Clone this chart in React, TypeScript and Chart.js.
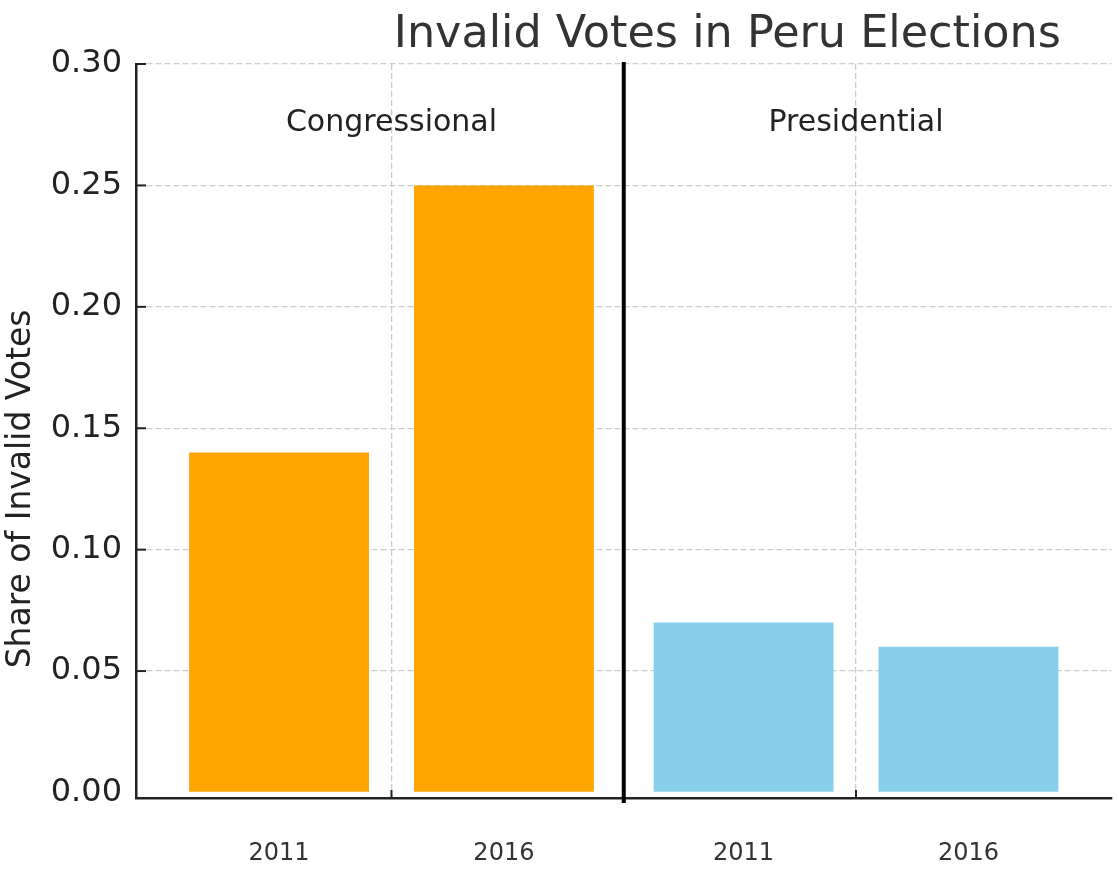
import React, { useEffect, useRef } from 'react';
import { Chart, registerables } from 'chart.js';

Chart.register(...registerables);

// ---- data ----
const groups = ['Congressional', 'Presidential'];
const years = ['2011', '2016'];
const congressional = [0.14, 0.25];
const presidential = [0.07, 0.06];
const yTicks = [0, 0.05, 0.1, 0.15, 0.2, 0.25, 0.3];
const chartTitle = 'Invalid Votes in Peru Elections';
const yTitle = 'Share of Invalid Votes';

// ---- layout constants (axis units) ----
const BAR_OFFSET = 0.242;
const X_MIN = -0.55;
const X_MAX = 1.55;
const Y_MIN = -0.00227;
const Y_MAX = 0.3;
const DIVIDER_X = 0.5;
const GROUP_LABEL_Y = 0.2757;
const Y_TITLE_CENTER = 0.125;

const FAMILY = '"DejaVu Sans", sans-serif';
const GRID_COLOR = '#cccccc';

const barX = (g: number, yi: number) => g + (yi === 0 ? -BAR_OFFSET : BAR_OFFSET);

export default function App() {
  const ref = useRef<HTMLCanvasElement>(null);

  useEffect(() => {
    document.body.style.margin = '0';
    document.body.style.overflow = 'hidden';
    const canvas = ref.current;
    if (!canvas) return;

    const barPositions = groups.flatMap((_, g) => years.map((_, yi) => barX(g, yi)));
    const barLabels = groups.flatMap(() => years);

    const overlay = {
      id: 'overlay',
      afterDraw(chart: any) {
        const { ctx, chartArea, scales } = chart;
        const x = scales.x;
        const y = scales.y;
        ctx.save();
        // inward tick marks
        ctx.strokeStyle = '#222';
        ctx.lineWidth = 2;
        yTicks.forEach((v) => {
          if (v === 0) return;
          const py = y.getPixelForValue(v);
          ctx.beginPath();
          ctx.moveTo(chartArea.left, py);
          ctx.lineTo(chartArea.left + 10, py);
          ctx.stroke();
        });
        groups.forEach((_, g) => {
          const px = x.getPixelForValue(g);
          ctx.beginPath();
          ctx.moveTo(px, chartArea.bottom);
          ctx.lineTo(px, chartArea.bottom - 8);
          ctx.stroke();
        });
        // divider
        const dx = x.getPixelForValue(DIVIDER_X);
        ctx.strokeStyle = '#000';
        ctx.lineWidth = 4;
        ctx.beginPath();
        ctx.moveTo(dx, chartArea.top - 2);
        ctx.lineTo(dx, chartArea.bottom + 5);
        ctx.stroke();
        // group labels
        ctx.fillStyle = '#222';
        ctx.font = `30px ${FAMILY}`;
        ctx.textAlign = 'center';
        ctx.textBaseline = 'middle';
        groups.forEach((name, g) => {
          ctx.fillText(name, x.getPixelForValue(g), y.getPixelForValue(GROUP_LABEL_Y));
        });
        // y axis title
        ctx.save();
        ctx.translate(21, y.getPixelForValue(Y_TITLE_CENTER));
        ctx.rotate(-Math.PI / 2);
        ctx.fillStyle = '#222';
        ctx.font = `33px ${FAMILY}`;
        ctx.textAlign = 'center';
        ctx.textBaseline = 'middle';
        ctx.fillText(yTitle, 0, 0);
        ctx.restore();
        // title
        ctx.fillStyle = '#333';
        ctx.font = `44.5px ${FAMILY}`;
        ctx.textAlign = 'center';
        ctx.textBaseline = 'alphabetic';
        ctx.fillText(chartTitle, chart.width * 0.65, 47);
        ctx.restore();
      },
    };

    const chart = new Chart(canvas, {
      type: 'bar',
      data: {
        datasets: [
          {
            label: groups[0],
            data: congressional.map((v, yi) => ({ x: barX(0, yi), y: v })),
            backgroundColor: '#FFA500',
            grouped: false,
            categoryPercentage: 1,
            barPercentage: 0.8,
          },
          {
            label: groups[1],
            data: presidential.map((v, yi) => ({ x: barX(1, yi), y: v })),
            backgroundColor: '#87CEEB',
            grouped: false,
            categoryPercentage: 1,
            barPercentage: 0.8,
          },
        ],
      },
      options: {
        animation: false,
        responsive: true,
        maintainAspectRatio: false,
        layout: { padding: { top: 64, right: 7.5, bottom: 0, left: 0 } },
        plugins: {
          legend: { display: false },
          tooltip: { enabled: false },
          title: { display: false },
        },
        scales: {
          x: {
            type: 'linear',
            position: 'bottom',
            min: X_MIN,
            max: X_MAX,
            offset: false,
            weight: 0,
            afterBuildTicks: (s: any) => {
              s.ticks = groups.map((_, g) => ({ value: g }));
            },
            afterFit: (s: any) => {
              s.height = 0;
            },
            ticks: { display: false },
            grid: { display: true, offset: false, drawTicks: false, color: GRID_COLOR, lineWidth: 1.3 },
            border: { display: true, color: '#222', width: 2.5, dash: [6, 3] },
          },
          xYears: {
            type: 'linear',
            position: 'bottom',
            min: X_MIN,
            max: X_MAX,
            offset: false,
            weight: 1,
            afterBuildTicks: (s: any) => {
              s.ticks = barPositions.map((v) => ({ value: v }));
            },
            afterFit: (s: any) => {
              s.height = 77;
            },
            ticks: {
              autoSkip: false,
              maxRotation: 0,
              padding: 41,
              color: '#333',
              font: { family: FAMILY, size: 24 },
              callback: (_v: any, i: number) => barLabels[i],
            },
            grid: { display: false, drawTicks: false },
            border: { display: false },
          },
          y: {
            type: 'linear',
            position: 'left',
            min: Y_MIN,
            max: Y_MAX,
            z: 1,
            afterBuildTicks: (s: any) => {
              s.ticks = yTicks.map((v) => ({ value: v }));
            },
            afterFit: (s: any) => {
              s.width = 136;
            },
            ticks: {
              padding: 14,
              color: '#222',
              font: { family: FAMILY, size: 32 },
              callback: (v: any) => Number(v).toFixed(2),
            },
            grid: {
              drawTicks: false,
              lineWidth: 1.3,
              color: (c: any) => (c.tick && c.tick.value === 0 ? 'rgba(0,0,0,0)' : GRID_COLOR),
            },
            border: { color: '#222', width: 2.5, dash: [6, 3] },
            title: { display: false },
          },
        },
      },
      plugins: [overlay],
    } as any);

    return () => chart.destroy();
  }, []);

  return (
    <div style={{ width: 1119, height: 875, position: 'relative' }}>
      <canvas ref={ref} style={{ display: 'block' }} />
    </div>
  );
}
